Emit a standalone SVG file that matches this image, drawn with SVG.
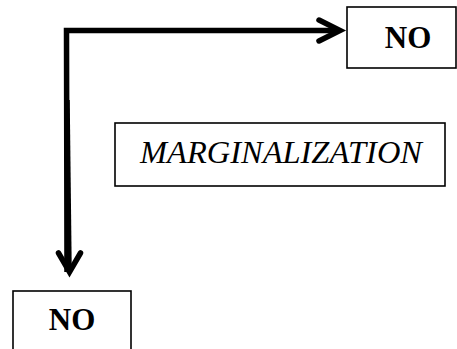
<svg xmlns="http://www.w3.org/2000/svg" width="457" height="349" viewBox="0 0 457 349">
  <style>
    .box { fill: #ffffff; stroke: #000000; stroke-width: 1.6; }
    text { font-family: "Liberation Serif", "Times New Roman", "DejaVu Serif", serif; fill: #000000; text-anchor: middle; }
    .bold { font-weight: bold; font-size: 31px; }
    .italic { font-style: italic; font-size: 32px; }
    .wire { fill: none; stroke: #000000; stroke-width: 5.5; stroke-linejoin: miter; }
    .head { fill: none; stroke: #000000; stroke-width: 5.5; stroke-linecap: round; stroke-linejoin: miter; }
  </style>

  <rect width="457" height="349" fill="#ffffff"/>

  <!-- connectors: elbow line with open chevron heads -->
  <g id="connectors">
    <path class="wire" d="M 67 272 L 66.5 30.5 L 339 30.5"/>
    <path class="head" d="M 319 20 L 340 30.5 L 319 41"/>
    <path class="wire" d="M 67 100 L 69 270"/>
    <path class="head" d="M 58.5 253 L 69.5 272 L 80.5 253"/>
  </g>

  <g id="node-no-top">
    <rect class="box" x="347" y="7" width="109" height="61"/>
    <text class="bold" x="408" y="48">NO</text>
  </g>

  <g id="node-marginalization">
    <rect class="box" x="115" y="123" width="330" height="63"/>
    <text class="italic" x="281" y="163" textLength="282" lengthAdjust="spacingAndGlyphs">MARGINALIZATION</text>
  </g>

  <g id="node-no-bottom">
    <rect class="box" x="13" y="291" width="118" height="70"/>
    <text class="bold" x="72" y="330">NO</text>
  </g>
</svg>
